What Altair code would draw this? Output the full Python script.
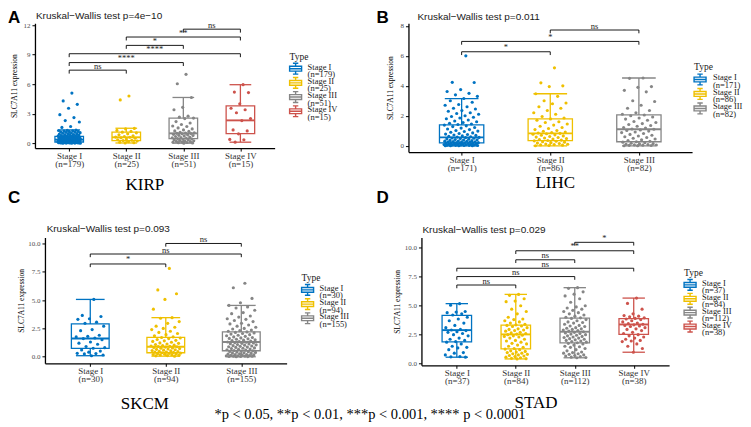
import altair as alt
import pandas as pd

# ------------------------------------------------------------------ data
# KIRP
kirp_labels = ["Stage I|(n=179)", "Stage II|(n=25)", "Stage III|(n=51)", "Stage IV|(n=15)"]
kirp_lo = [0.0, 0.02, 0.0, 0.1]
kirp_q1 = [0.12, 0.25, 0.47, 0.98]
kirp_med = [0.36, 0.6, 1.0, 2.32]
kirp_q3 = [0.7, 1.12, 2.55, 3.8]
kirp_hi = [1.35, 1.52, 4.65, 5.95]
kirp_s1 = [5.1, 4.3, 3.95, 3.55, 2.9, 2.6, 2.3, 2.15, 1.7, 1.6,
           1.34, 1.31, 1.29, 1.26, 1.23, 1.2, 1.18, 1.16, 1.13, 1.1, 1.07, 1.04, 1.01, 0.97, 0.94, 0.92, 0.88, 0.85, 0.83, 0.8,
           0.78, 0.75, 0.73, 0.71, 0.7, 0.68, 0.66, 0.65, 0.63, 0.62, 0.6, 0.59, 0.57, 0.56, 0.54, 0.53, 0.52, 0.5, 0.49, 0.48,
           0.47, 0.46, 0.45, 0.44, 0.43, 0.42, 0.41, 0.4, 0.39, 0.38, 0.37, 0.36, 0.36, 0.35, 0.34, 0.33, 0.32, 0.31, 0.3, 0.3,
           0.29, 0.28, 0.27, 0.26, 0.26, 0.25, 0.24, 0.23, 0.22, 0.22, 0.21, 0.2, 0.19, 0.18, 0.18, 0.17, 0.16, 0.15, 0.14, 0.14,
           0.13, 0.12, 0.12, 0.11, 0.1, 0.09, 0.09, 0.08, 0.07, 0.06, 0.06, 0.05, 0.04, 0.04, 0.03, 0.02, 0.02, 0.01, 0.01, 0.0,
           0.0, 0.0]
kirp_s2 = [4.8, 4.4, 1.5, 1.45, 1.3, 1.2, 1.12, 1.05, 0.95, 0.85, 0.75, 0.68, 0.62, 0.6, 0.55, 0.5, 0.42, 0.35, 0.3,
           0.26, 0.22, 0.15, 0.1, 0.05, 0.02]
kirp_s3 = [7.0, 6.05, 4.65, 3.65, 3.4, 2.75, 2.65, 2.55, 2.5, 2.2, 2.05, 1.9, 1.75, 1.7, 1.55, 1.45, 1.35, 1.25, 1.2,
           1.1, 1.05, 1.02, 1.0, 0.98, 0.95, 0.9, 0.85, 0.8, 0.78, 0.72, 0.68, 0.62, 0.58, 0.55, 0.5, 0.47, 0.45, 0.4,
           0.35, 0.32, 0.28, 0.25, 0.2, 0.18, 0.15, 0.12, 0.1, 0.07, 0.05, 0.03, 0.0]
kirp_s4 = [5.95, 5.2, 5.15, 4.0, 3.55, 3.4, 3.1, 2.5, 2.3, 1.35, 1.25, 0.95, 0.38, 0.35, 0.1]
kirp_pair_a = [1, 1, 1, 2, 2, 3]
kirp_pair_b = [2, 3, 4, 3, 4, 4]
kirp_pair_y = [7.43, 8.2, 9.1, 9.95, 10.8, 11.6]
kirp_pair_t = ["ns", "****", "****", "*", "**", "ns"]
kirp_yticks = [0, 3, 6, 9, 12]

# LIHC
lihc_labels = ["Stage I|(n=171)", "Stage II|(n=86)", "Stage III|(n=82)"]
lihc_lo = [0.0, 0.0, 0.0]
lihc_q1 = [0.2, 0.34, 0.27]
lihc_med = [0.56, 0.83, 1.1]
lihc_q3 = [1.39, 1.79, 2.06]
lihc_hi = [3.15, 3.47, 4.52]
lihc_s1 = [6.0, 4.23, 4.22, 3.75, 3.62, 3.5, 3.4, 3.3,
           3.15, 3.0, 2.9, 2.75, 2.7, 2.6, 2.5, 2.45, 2.35, 2.3, 2.2, 2.15, 2.1, 2.0, 1.95, 1.9, 1.85, 1.8, 1.72, 1.65,
           1.6, 1.55, 1.5, 1.45, 1.42, 1.38, 1.33, 1.28, 1.22, 1.18, 1.12, 1.08, 1.02, 0.98, 0.95, 0.9, 0.86, 0.82, 0.78,
           0.75, 0.72, 0.69, 0.66, 0.63, 0.6, 0.58, 0.56, 0.54, 0.52, 0.5, 0.48, 0.46, 0.44, 0.42, 0.4, 0.38, 0.36, 0.34,
           0.32, 0.31, 0.3, 0.28, 0.27, 0.26, 0.25, 0.24, 0.22, 0.21, 0.2, 0.19, 0.18, 0.17, 0.16, 0.15, 0.14, 0.13, 0.12,
           0.11, 0.1, 0.09, 0.08, 0.07, 0.06, 0.05, 0.05, 0.04, 0.03, 0.03, 0.02, 0.02, 0.01, 0.01, 0.0, 0.0]
lihc_s2 = [5.2, 4.2, 4.0, 3.95, 3.47, 3.3, 3.0, 2.85, 2.8, 2.6, 2.5, 2.35, 2.2, 2.1, 1.95, 1.85, 1.79, 1.7, 1.6, 1.55,
           1.45, 1.38, 1.3, 1.22, 1.15, 1.08, 1.02, 0.97, 0.92, 0.88, 0.85, 0.83, 0.8, 0.77, 0.73, 0.7, 0.66, 0.62, 0.58,
           0.55, 0.52, 0.48, 0.45, 0.42, 0.38, 0.35, 0.33, 0.3, 0.27, 0.24, 0.21, 0.18, 0.15, 0.12, 0.1, 0.08, 0.06, 0.04,
           0.02, 0.0]
lihc_s3 = [4.52, 4.5, 3.95, 3.9, 3.7, 3.6, 3.0, 2.95, 2.7, 2.5, 2.35, 2.2, 2.1, 2.05, 2.0, 1.92, 1.85, 1.78, 1.7, 1.62,
           1.55, 1.48, 1.42, 1.35, 1.3, 1.22, 1.18, 1.12, 1.1, 1.06, 1.02, 0.98, 0.92, 0.88, 0.82, 0.76, 0.7, 0.65, 0.6,
           0.55, 0.5, 0.45, 0.4, 0.35, 0.3, 0.27, 0.24, 0.2, 0.17, 0.14, 0.12, 0.1, 0.08, 0.06, 0.05, 0.04, 0.03, 0.02,
           0.01, 0.0]
lihc_pair_a = [1, 1, 2]
lihc_pair_b = [2, 3, 3]
lihc_pair_y = [6.27, 6.96, 7.72]
lihc_pair_t = ["*", "*", "ns"]
lihc_yticks = [0, 2, 4, 6, 8]

# SKCM
skcm_labels = ["Stage I|(n=30)", "Stage II|(n=94)", "Stage III|(n=155)"]
skcm_lo = [0.09, 0.05, 0.0]
skcm_q1 = [0.73, 0.35, 0.53]
skcm_med = [1.61, 0.88, 1.3]
skcm_q3 = [2.9, 1.7, 2.19]
skcm_hi = [5.06, 3.45, 4.53]
skcm_s1 = [5.06, 3.65, 3.55, 3.35, 3.3, 3.05, 2.95, 2.7, 2.4, 2.3, 1.9, 1.8, 1.75, 1.65, 1.6, 1.5, 1.3, 1.2, 1.1, 0.9,
           0.8, 0.75, 0.6, 0.5, 0.4, 0.3, 0.28, 0.25, 0.15, 0.09]
skcm_s2 = [7.8, 5.9, 5.56, 5.06, 4.2, 3.45, 3.4, 3.1, 2.95, 2.7, 2.6, 2.5, 2.4, 2.25, 2.15, 2.05, 1.95, 1.85, 1.75, 1.7,
           1.65, 1.6, 1.52, 1.45, 1.4, 1.35, 1.28, 1.22, 1.18, 1.12, 1.08, 1.02, 0.98, 0.95, 0.92, 0.9, 0.88, 0.85, 0.82,
           0.78, 0.75, 0.72, 0.68, 0.65, 0.62, 0.58, 0.55, 0.52, 0.48, 0.45, 0.42, 0.4, 0.38, 0.35, 0.32, 0.3, 0.27, 0.25,
           0.22, 0.2, 0.18, 0.15, 0.12, 0.1, 0.08, 0.05]
skcm_s3 = [6.49, 6.09, 5.15, 4.77, 4.53, 4.4, 4.3, 4.1, 3.9, 3.8, 3.6, 3.5, 3.35, 3.3, 3.2, 3.1, 2.95, 2.9, 2.8, 2.7,
           2.6, 2.5, 2.45, 2.35, 2.3, 2.25, 2.19, 2.15, 2.1, 2.05, 2.0, 1.95, 1.9, 1.85, 1.8, 1.75, 1.7, 1.66, 1.62, 1.58,
           1.54, 1.5, 1.46, 1.42, 1.38, 1.34, 1.3, 1.28, 1.25, 1.22, 1.18, 1.15, 1.12, 1.08, 1.05, 1.02, 0.98, 0.95, 0.92,
           0.88, 0.85, 0.82, 0.78, 0.75, 0.72, 0.68, 0.65, 0.62, 0.58, 0.55, 0.52, 0.5, 0.47, 0.44, 0.41, 0.38, 0.35, 0.32,
           0.29, 0.26, 0.23, 0.2, 0.18, 0.16, 0.14, 0.12, 0.1, 0.08, 0.07, 0.06, 0.05, 0.04, 0.03, 0.02, 0.01, 0.0]
skcm_pair_a = [1, 1, 2]
skcm_pair_b = [2, 3, 3]
skcm_pair_y = [8.19, 9.07, 10.0]
skcm_pair_t = ["*", "ns", "ns"]
skcm_yticks = [0, 2.5, 5, 7.5, 10]

# STAD
stad_labels = ["Stage I|(n=37)", "Stage II|(n=84)", "Stage III|(n=112)", "Stage IV|(n=38)"]
stad_lo = [0.55, 0.4, 0.5, 0.98]
stad_q1 = [1.88, 1.27, 1.79, 2.52]
stad_med = [2.89, 2.52, 2.75, 3.38]
stad_q3 = [4.16, 3.32, 3.93, 3.88]
stad_hi = [5.18, 5.98, 6.56, 5.66]
stad_s1 = [5.18, 5.05, 4.5, 4.45, 4.4, 4.3, 4.2, 4.0, 3.85, 3.7, 3.5, 3.3, 3.1, 2.95, 2.9, 2.85, 2.75, 2.7, 2.6, 2.5,
           2.4, 2.2, 2.1, 2.0, 1.9, 1.85, 1.7, 1.5, 1.4, 1.35, 1.2, 0.95, 0.9, 0.75, 0.6, 0.58, 0.55]
stad_s2 = [5.98, 5.9, 5.6, 5.4, 5.35, 5.0, 4.7, 4.5, 4.3, 4.0, 3.85, 3.8, 3.7, 3.6, 3.5, 3.4, 3.35, 3.3, 3.25, 3.2,
           3.1, 3.0, 2.95, 2.9, 2.85, 2.8, 2.7, 2.65, 2.6, 2.55, 2.5, 2.45, 2.4, 2.35, 2.3, 2.2, 2.1, 2.0, 1.95, 1.85,
           1.75, 1.7, 1.6, 1.5, 1.4, 1.3, 1.25, 1.2, 1.1, 1.05, 1.0, 0.95, 0.9, 0.85, 0.8, 0.75, 0.7, 0.65, 0.6, 0.55,
           0.5, 0.45, 0.42, 0.4]
stad_s3 = [6.56, 6.5, 6.2, 6.0, 5.85, 5.6, 5.3, 5.0, 4.9, 4.8, 4.7, 4.6, 4.5, 4.4, 4.3, 4.2, 4.1, 4.0, 3.95, 3.9,
           3.8, 3.7, 3.6, 3.55, 3.5, 3.4, 3.3, 3.25, 3.2, 3.1, 3.05, 3.0, 2.95, 2.9, 2.85, 2.8, 2.75, 2.7, 2.65, 2.6,
           2.55, 2.5, 2.45, 2.4, 2.35, 2.3, 2.25, 2.2, 2.15, 2.1, 2.05, 2.0, 1.95, 1.9, 1.85, 1.8, 1.75, 1.7, 1.6, 1.5,
           1.45, 1.4, 1.3, 1.2, 1.1, 1.0, 0.95, 0.9, 0.85, 0.8, 0.75, 0.7, 0.65, 0.6, 0.55, 0.52, 0.5]
stad_s4 = [5.66, 5.2, 4.7, 4.3, 4.15, 4.1, 4.05, 3.95, 3.9, 3.85, 3.8, 3.7, 3.6, 3.5, 3.45, 3.4, 3.35, 3.3, 3.25, 3.2,
           3.1, 3.0, 2.95, 2.85, 2.7, 2.6, 2.5, 2.4, 2.3, 2.2, 2.1, 2.0, 1.95, 1.9, 1.7, 1.5, 1.3, 0.98]
stad_pair_a = [1, 1, 1, 2, 2, 3]
stad_pair_b = [2, 3, 4, 3, 4, 4]
stad_pair_y = [6.79, 7.52, 8.24, 8.97, 9.75, 10.48]
stad_pair_t = ["ns", "ns", "ns", "ns", "**", "*"]
stad_yticks = [0, 2.5, 5, 7.5, 10]

titles = ["Kruskal\u2212Wallis test p=4e\u221210", "Kruskal\u2212Wallis test p=0.011",
          "Kruskal\u2212Wallis test p=0.093", "Kruskal\u2212Wallis test p=0.029"]
cancers = ["KIRP", "LIHC", "SKCM", "STAD"]
letters = ["A", "B", "C", "D"]
footer = "*p < 0.05,   **p < 0.01,   ***p < 0.001, **** p < 0.0001"

# ------------------------------------------------------------------ style
JCO = ["#0073C2", "#EFC000", "#868686", "#CD534C"]
SERIF = "Liberation Serif"
SANS = "Liberation Sans"
BOX_W = 0.5
CAP_W = 0.38
BOX_PATH = ("M-1,-0.4H1V0.4H-1Z M-1,0H1 M0,-0.4V-0.9 M0,0.4V0.9 "
            "M-0.45,-0.9H0.45 M-0.45,0.9H0.45")


def note(txt, pos, **kw):
    return alt.Chart(pd.DataFrame({"t": [txt]})).mark_text(**kw).encode(
        x=alt.value(pos[0]), y=alt.value(pos[1]), text="t:N")


def legend_layers(labs, colors, lx, ly, step, sym_dy, lab_dx):
    out = [note("Type", (lx, ly + 7), font=SERIF, fontSize=9.5, align="left",
                baseline="alphabetic", color="#1a1a1a")]
    for i, (lab, col) in enumerate(zip(labs, colors)):
        cy = ly + sym_dy + i * step
        out.append(alt.Chart(pd.DataFrame({"t": [lab]})).mark_point(
            shape=BOX_PATH, size=144, filled=False, fill="white", strokeWidth=1.4, opacity=1,
            color=col).encode(x=alt.value(lx + 6), y=alt.value(cy)))
        out.append(alt.Chart(pd.DataFrame({"t": [lab]})).mark_text(
            font=SERIF, fontSize=8.5, align="left", baseline="alphabetic", lineHeight=7.5,
            color="#1a1a1a").encode(x=alt.value(lx + lab_dx), y=alt.value(cy + 1),
                                    text=alt.value(lab.split("|"))))
    return out


def panel(p):
    labs = p["labels"]
    n = len(labs)
    colors = JCO[:n]
    dx, w, h = p["dx"], p["w"], p["h"]
    xsc = alt.Scale(domain=[0.4, n + 0.6], range=[dx, dx + w], nice=False, zero=False)
    ysc = alt.Scale(domain=p["ydom"], nice=False, zero=False)
    label_expr = "split([" + ",".join("'%s'" % l for l in labs) + "][datum.value - 1], '|')"
    xax = alt.Axis(title=None, values=list(range(1, n + 1)), labelExpr=label_expr, grid=False,
                   domainColor="black", domainWidth=1.3, tickColor="black", tickSize=3, tickWidth=1,
                   labelFont=SERIF, labelFontSize=9, labelColor="#333333", labelLineHeight=8,
                   labelPadding=0, labelFlush=False, labelOverlap=False)
    yax = alt.Axis(title="SLC7A11 expression", values=p["yticks"], format=p["yfmt"], grid=False,
                   offset=-dx, domainColor="black", domainWidth=1.3, tickColor="black", tickSize=3,
                   labelFont=SERIF, labelFontSize=7, labelColor="#4D4D4D", labelPadding=2,
                   labelFlush=False, labelOverlap=False,
                   titleFont=SERIF, titleFontSize=7.5, titleFontWeight="normal", titleColor="black",
                   titleX=p["ytitle_x"], titleY=h / 2, titleAngle=270, titleBaseline="middle",
                   titleAlign="center")
    stroke_enc = alt.Stroke("lab:N", scale=alt.Scale(domain=labs, range=colors), legend=None)

    box_df = pd.DataFrame({"g": list(range(1, n + 1)), "lab": labs, "lo": p["lo"], "q1": p["q1"],
                           "med": p["med"], "q3": p["q3"], "hi": p["hi"]})
    base = alt.Chart(box_df).transform_calculate(
        xl="datum.g - %f" % (BOX_W / 2), xr="datum.g + %f" % (BOX_W / 2),
        cl="datum.g - %f" % (CAP_W / 2), cr="datum.g + %f" % (CAP_W / 2))

    X = lambda f: alt.X(f, scale=xsc, axis=xax)
    Y = lambda f: alt.Y(f, scale=ysc, axis=yax)

    whisk = base.mark_rule(strokeWidth=1.3).encode(x=X("g:Q"), y=Y("lo:Q"), y2="hi:Q", stroke=stroke_enc)
    cap_lo = base.mark_rule(strokeWidth=1.3).encode(x=X("cl:Q"), x2="cr:Q", y=Y("lo:Q"), stroke=stroke_enc)
    cap_hi = base.mark_rule(strokeWidth=1.3).encode(x=X("cl:Q"), x2="cr:Q", y=Y("hi:Q"), stroke=stroke_enc)
    box = base.mark_bar(fill="white", strokeWidth=1.3).encode(
        x=X("xl:Q"), x2="xr:Q", y=Y("q1:Q"), y2="q3:Q", stroke=stroke_enc)
    med = base.mark_rule(strokeWidth=1.9).encode(x=X("xl:Q"), x2="xr:Q", y=Y("med:Q"), stroke=stroke_enc)

    rows = []
    for gi, vals in enumerate(p["series"]):
        for v in vals:
            rows.append({"g": gi + 1, "lab": labs[gi], "v": v})
    pts_df = pd.DataFrame(rows)
    pts = alt.Chart(pts_df).transform_window(
        rn="row_number()", groupby=["g"]
    ).transform_calculate(
        xj="datum.g + ((datum.rn * 0.6180339887) % 1 - 0.5) * 0.4"
    ).mark_circle(size=10, opacity=1).encode(
        x=X("xj:Q"), y=Y("v:Q"),
        fill=alt.Fill("lab:N", scale=alt.Scale(domain=labs, range=colors), legend=None))

    br_df = pd.DataFrame({"a": p["pa"], "b": p["pb"], "y": p["py"], "t": p["pt"]})
    br = alt.Chart(br_df).mark_rule(color="black", strokeWidth=0.9).encode(
        x=X("a:Q"), x2="b:Q", y=Y("y:Q"))
    tips = alt.Chart(br_df).transform_fold(["a", "b"], as_=["k", "xe"]).transform_calculate(
        yb="datum.y - %f" % p["tip"]).mark_rule(color="black", strokeWidth=0.9).encode(
        x=X("xe:Q"), y=Y("y:Q"), y2="yb:Q")
    br_txt = alt.Chart(br_df).transform_calculate(xm="(datum.a + datum.b) / 2").mark_text(
        font=SERIF, fontSize=8.5, dy=-1.5, baseline="alphabetic", color="#222222").encode(
        x=X("xm:Q"), y=Y("y:Q"), text="t:N")

    layers = [whisk, cap_lo, cap_hi, box, med, pts, br, tips, br_txt,
              note(p["letter"], p["letter_pos"], font=SANS, fontSize=17, fontWeight="bold",
                   align="left", baseline="alphabetic", color="black"),
              note(p["title"], p["title_pos"], font=SANS, fontSize=10, align="left",
                   baseline="alphabetic", color="#1a1a1a"),
              note(p["name"], p["name_pos"], font=SERIF, fontSize=17, align="center",
                   baseline="alphabetic", color="black")]
    lx, ly, step, sym_dy, lab_dx = p["legend"]
    layers += legend_layers(labs, colors, lx, ly, step, sym_dy, lab_dx)
    if p.get("footer"):
        layers.append(note(p["footer"], p["footer_pos"], font=SERIF, fontSize=14.5, align="center",
                           baseline="alphabetic", color="black"))
    return alt.layer(*layers).properties(width=dx + w, height=h)


pA = dict(labels=kirp_labels, lo=kirp_lo, q1=kirp_q1, med=kirp_med, q3=kirp_q3, hi=kirp_hi,
          series=[kirp_s1, kirp_s2, kirp_s3, kirp_s4], pa=kirp_pair_a, pb=kirp_pair_b, py=kirp_pair_y,
          pt=kirp_pair_t, ydom=[-0.5, 12.2], yticks=kirp_yticks, yfmt="d", dx=0, w=240, h=125, tip=0.35,
          letter=letters[0], letter_pos=(-27, -0.5), title=titles[0], title_pos=(1, -4),
          name=cancers[0], name_pos=(110, 167), legend=(255, 30, 14.2, 15.5, 18), ytitle_x=-20)
pB = dict(labels=lihc_labels, lo=lihc_lo, q1=lihc_q1, med=lihc_med, q3=lihc_q3, hi=lihc_hi,
          series=[lihc_s1, lihc_s2, lihc_s3], pa=lihc_pair_a, pb=lihc_pair_b, py=lihc_pair_y,
          pt=lihc_pair_t, ydom=[-0.42, 8.17], yticks=lihc_yticks, yfmt="d", dx=0, w=284, h=129, tip=0.22,
          letter=letters[1], letter_pos=(-32, -0.5), title=titles[1], title_pos=(9, -3),
          name=cancers[1], name_pos=(147, 165), legend=(286, 40, 14.5, 16.3, 19), ytitle_x=-18)
pC = dict(labels=skcm_labels, lo=skcm_lo, q1=skcm_q1, med=skcm_med, q3=skcm_q3, hi=skcm_hi,
          series=[skcm_s1, skcm_s2, skcm_s3], pa=skcm_pair_a, pb=skcm_pair_b, py=skcm_pair_y,
          pt=skcm_pair_t, ydom=[-0.58, 10.53], yticks=skcm_yticks, yfmt=".1f", dx=10, w=242, h=126,
          tip=0.28, letter=letters[2], letter_pos=(-27, -34.5), title=titles[2], title_pos=(11.7, -5.5),
          name=cancers[2], name_pos=(110, 171.5), legend=(267, 36.5, 14.2, 16, 18), ytitle_x=-23,
          footer=footer, footer_pos=(335.5, 182))
pD = dict(labels=stad_labels, lo=stad_lo, q1=stad_q1, med=stad_med, q3=stad_q3, hi=stad_hi,
          series=[stad_s1, stad_s2, stad_s3, stad_s4], pa=stad_pair_a, pb=stad_pair_b, py=stad_pair_y,
          pt=stad_pair_t, ydom=[-0.15, 10.9], yticks=stad_yticks, yfmt=".1f", dx=13, w=248, h=128,
          tip=0.28, letter=letters[3], letter_pos=(-32, -34.5), title=titles[3], title_pos=(14, -4.5),
          name=cancers[3], name_pos=(127.7, 170.5), legend=(276, 31.5, 13.9, 16, 18), ytitle_x=-24)

chart = alt.concat(
    panel(pA), panel(pB), panel(pC), panel(pD),
    columns=2, spacing={"row": 85.5, "column": 122}, bounds="flush", align="each"
).resolve_scale(
    x="independent", y="independent", stroke="independent", fill="independent"
).properties(padding=0).configure_view(strokeWidth=0)

chart.save("out.html", embed_options={"renderer": "svg", "actions": False})
